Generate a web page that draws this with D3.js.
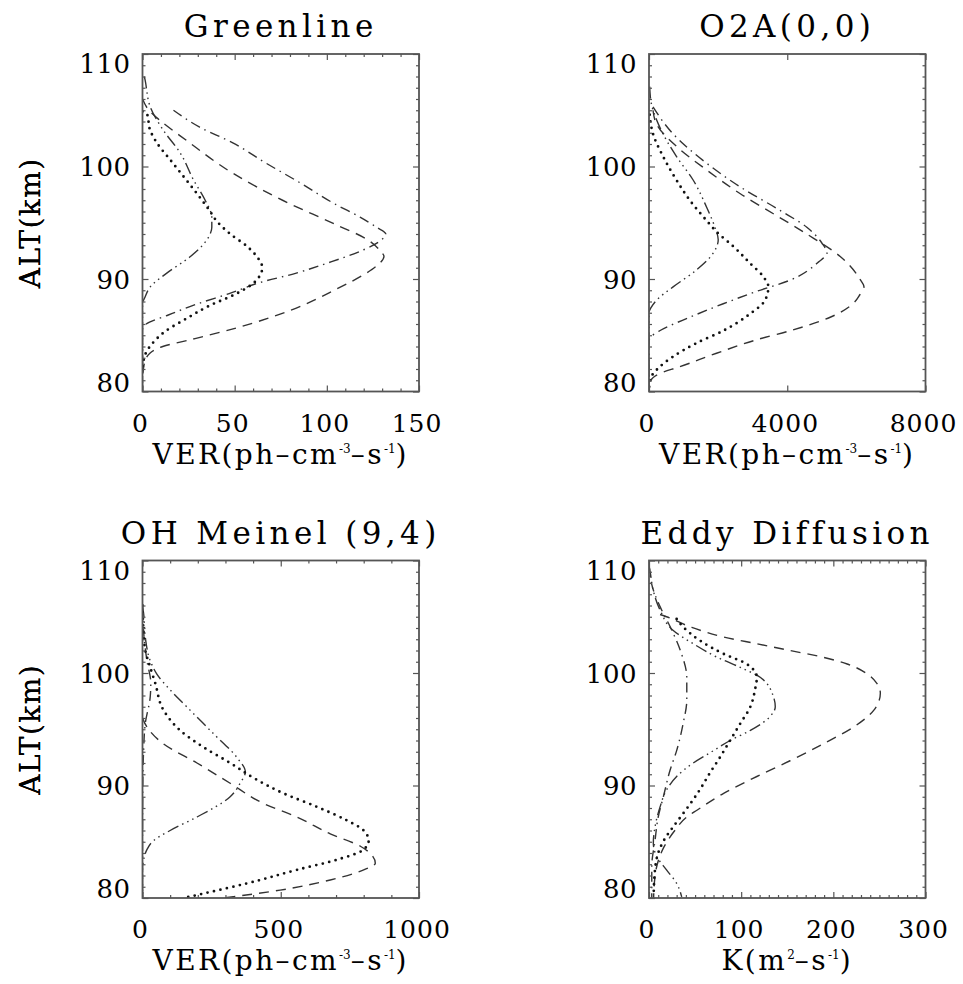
<!DOCTYPE html>
<html>
<head>
<meta charset="utf-8">
<script src="https://cdn.jsdelivr.net/npm/d3@7"></script>
<style>
  body { margin: 0; background: #fff; }
  svg { display: block; font-family: "DejaVu Serif", serif; }
</style>
</head>
<body>
<div id="chart"></div>
<script>
// ---- data: [altitude km, value] ----
const altDomain = [80, 110];
const altTicks = [80, 90, 100, 110];

// Greenline
const greenDotted = [[104.9,0],[104.7,2.4],[103.2,4.2],[102.1,7.8],[100.6,15],[99.1,22.3],[97.6,29.5],[96.0,36.7],[95.2,40],[94.0,47.6],[92.9,56.7],[92.0,62],[91.0,65],[90.4,64],[89.6,60],[88.7,51],[87.6,36],[86.5,24],[85.3,12],[84.2,5],[83.3,1.5],[82,0]];
const greenDashed = [[106,0],[104.9,4],[104.3,8],[102.3,24],[99.4,49],[97.0,76],[94.9,104],[93.5,122],[92.5,129],[92.0,131],[91.3,128],[90.8,124],[89.0,104],[87.2,80],[85.7,52],[84.6,26],[84.0,11],[83.4,4],[82.5,1],[81,0]];
const greenDashDot = [[105.0,16.8],[103.5,31],[102.1,49],[100.3,67],[98.5,86],[96.7,104],[95.5,118],[94.6,127],[94.0,132],[93.4,129],[92.6,120],[91.4,100],[90.5,83],[89.7,64],[88.7,47],[87.8,30],[86.8,14],[86.0,2],[85.5,0],[80,0]];
const greenDashDotDot = [[108,1],[107.7,1.4],[105.3,4.2],[103.2,11.4],[101.2,20.5],[98.8,27.7],[97.0,34],[95.5,37.6],[94.6,37.6],[93.5,35],[92.0,26],[90.5,13],[89.3,4.2],[88.4,1.4],[87.8,0],[80,0]];

// O2A(0,0)
const o2aDotted = [[104.6,19],[102.9,116],[100.9,406],[98.8,793],[97.0,1180],[95.2,1664],[94.2,1954],[92.9,2438],[91.4,2922],[90.2,3309],[89.3,3454],[88.1,3357],[86.9,2922],[85.4,2148],[84.3,1374],[83.1,697],[81.9,213],[81.0,19],[80,0]];
const o2aDashed = [[105,116],[103.8,213],[101.8,793],[99.7,1664],[97.6,2631],[95.8,3599],[94.0,4566],[92.0,5533],[90.0,6100],[89.3,6220],[88.6,6100],[87.8,5900],[86.6,5243],[85.4,4082],[84.6,3115],[83.4,1954],[82.2,890],[81.6,310],[81,60],[80,0]];
const o2aDashDot = [[105.3,116],[102.9,697],[100.3,1664],[98.2,2631],[96.1,3792],[94.6,4566],[93.2,5000],[92.3,5150],[91.5,4900],[89.9,4082],[88.9,3115],[87.8,2148],[86.6,1180],[85.4,310],[84.9,68],[84.5,0],[80,0]];
const o2aDashDotDot = [[107.1,19],[105.6,68],[103.5,310],[100.9,793],[98.8,1277],[96.4,1664],[94.6,1906],[93.5,2003],[92.3,1857],[90.8,1374],[89.3,697],[88.1,213],[87.5,68],[87,0],[80,0]];

// OH Meinel (9,4)
const ohDotted = [[106,0],[104.5,2],[103.5,4],[102.0,10],[100.5,28],[99.1,46],[96.7,76],[94.9,136],[93.4,221],[92.0,317],[90.5,414],[89.3,510],[88.1,631],[86.9,739],[86.0,800],[85.1,818],[84.3,800],[83.4,703],[82.5,558],[81.3,378],[80.4,221],[80,150]];
const ohDashed = [[96,0],[95.2,16],[93.7,76],[92.0,197],[90.2,317],[88.4,438],[87.2,558],[85.7,679],[84.6,788],[83.8,830],[83.1,842],[82.5,800],[81.6,679],[80.7,498],[80.0,293]];
const ohDashDot = [[106,0],[104,3],[101.1,16],[99.1,30],[97.9,28],[95.5,10],[93.1,4],[90,1],[85,0],[80,0]];
const ohDashDotDot = [[106,0],[105.3,4],[103.2,10],[101.1,28],[99.9,52],[98.5,100],[96.7,172],[94.6,257],[92.5,341],[91.2,372],[90.2,353],[89.0,317],[87.2,197],[86.0,100],[85.1,40],[84.3,16],[83.4,4],[82.5,0],[80,0]];

// Eddy Diffusion
const eddyDotted = [[104.8,30],[104.1,37],[102.9,55],[101.7,81],[100.8,106],[99.6,117],[98.5,115],[97.0,110],[95.5,99],[94.0,88],[92.5,77],[91.1,66],[89.6,55],[87.5,37],[86.3,26],[85.1,16],[84.0,10],[82.5,6.5],[80.1,5]];
const eddyDashed = [[105.2,12],[105.0,19],[104.1,45],[103.2,81],[102.6,117],[102.0,153],[101.4,189],[100.8,215],[99.9,237],[99.1,247],[98.2,251],[96.7,244],[95.2,222],[93.7,189],[92.2,153],[90.8,117],[89.3,81],[87.8,52],[87.2,41],[86,28],[84.5,16],[83,9],[81.5,6],[80,5]];
const eddyDashDot = [[110,0],[107.9,2.9],[105.9,12],[104.1,23],[102.0,34],[99.6,41],[97.6,41],[95.5,37],[93.1,30],[91.4,23],[89.0,15.6],[87.2,10],[85.1,6.5],[82.8,3],[80,3]];
const eddyDashDotDot = [[109.5,0],[109.1,1],[107.3,4.7],[105.6,12],[103.8,26],[102.6,48],[101.4,74],[100.5,99],[99.6,121],[97.9,135],[97.0,137],[96.1,131],[94.9,110],[94.0,88],[93.1,70],[92.0,48],[90.8,30],[89.6,19],[88.1,12],[86.3,6.5],[84.9,4.7],[83.7,8.3],[82.5,19],[81.3,30],[80.1,35.5]];

// ---- layout ----
const width = 963, height = 984;
const colX = [142.5, 649], rowY = [54, 560.5];
const pw = 276.5, ph = 337.5;

const lineStyles = {
    dot:        { w: 2.8, dash: "0 6.6", cap: "round", color: "#111" },
    dash:       { w: 1.4, dash: "10 7", cap: "butt", color: "#333" },
    dashdot:    { w: 1.4, dash: "10 5 1.5 5", cap: "butt", color: "#333" },
    dashdotdot: { w: 1.4, dash: "12 4 1.5 4 1.5 4 1.5 4", cap: "butt", color: "#333" }
};

const panels = [
    { title: "Greenline", col: 0, row: 0, xDomain: [0, 150], xMajor: [0, 50, 100, 150], xMinor: 10, xLabel: "ver",
      series: [[greenDashed, "dash"], [greenDashDot, "dashdot"], [greenDashDotDot, "dashdotdot"], [greenDotted, "dot"]] },
    { title: "O2A(0,0)", col: 1, row: 0, xDomain: [0, 8000], xMajor: [0, 4000, 8000], xMinor: null, xLabel: "ver",
      series: [[o2aDashed, "dash"], [o2aDashDot, "dashdot"], [o2aDashDotDot, "dashdotdot"], [o2aDotted, "dot"]] },
    { title: "OH Meinel (9,4)", col: 0, row: 1, xDomain: [0, 1000], xMajor: [0, 500, 1000], xMinor: 100, xLabel: "ver",
      series: [[ohDashed, "dash"], [ohDashDot, "dashdot"], [ohDashDotDot, "dashdotdot"], [ohDotted, "dot"]] },
    { title: "Eddy Diffusion", col: 1, row: 1, xDomain: [0, 300], xMajor: [0, 100, 200, 300], xMinor: 10, xLabel: "k",
      series: [[eddyDashed, "dash"], [eddyDashDot, "dashdot"], [eddyDashDotDot, "dashdotdot"], [eddyDotted, "dot"]] }
];

const svg = d3.select("#chart").append("svg").attr("width", width).attr("height", height);
const defs = svg.append("defs");

panels.forEach((p, idx) => {
    const x0 = colX[p.col], y0 = rowY[p.row];
    const g = svg.append("g").attr("transform", `translate(${x0},${y0})`);
    const x = d3.scaleLinear().domain(p.xDomain).range([0, pw]);
    const y = d3.scaleLinear().domain(altDomain).range([ph, 0]);

    defs.append("clipPath").attr("id", "clip" + idx)
        .append("rect").attr("width", pw).attr("height", ph);

    // curves
    const line = d3.line()
        .x(d => x(d[1]))
        .y(d => y(d[0]))
        .curve(d3.curveMonotoneY);
    const plot = g.append("g").attr("clip-path", `url(#clip${idx})`);
    p.series.forEach(([data, style]) => {
        const s = lineStyles[style];
        plot.append("path")
            .attr("d", line(data))
            .attr("fill", "none")
            .attr("stroke", s.color)
            .attr("stroke-width", s.w)
            .attr("stroke-dasharray", s.dash)
            .attr("stroke-linecap", s.cap);
    });

    // ticks (all inward, on all four sides)
    let minorX = [];
    if (p.xMinor) {
        minorX = d3.range(p.xDomain[0], p.xDomain[1] + 1e-9, p.xMinor).filter(v => !p.xMajor.includes(v));
    }
    const minorY = d3.range(80, 111, 1).filter(v => !altTicks.includes(v));
    const tickColor = "#555";
    const addAxis = (axis, tr) => {
        const a = g.append("g").attr("transform", tr).style("color", tickColor).call(axis);
        a.select(".domain").remove();
        a.selectAll("text").remove();
        a.selectAll("line").attr("stroke-width", 1.2);
    };
    addAxis(d3.axisBottom(x).tickValues(p.xMajor).tickSize(-6), `translate(0,${ph})`);
    addAxis(d3.axisTop(x).tickValues(p.xMajor).tickSize(-6), "translate(0,0)");
    if (minorX.length) {
        addAxis(d3.axisBottom(x).tickValues(minorX).tickSize(-3), `translate(0,${ph})`);
        addAxis(d3.axisTop(x).tickValues(minorX).tickSize(-3), "translate(0,0)");
    }
    addAxis(d3.axisLeft(y).tickValues(altTicks).tickSize(-6), "translate(0,0)");
    addAxis(d3.axisRight(y).tickValues(altTicks).tickSize(-6), `translate(${pw},0)`);
    addAxis(d3.axisLeft(y).tickValues(minorY).tickSize(-3), "translate(0,0)");
    addAxis(d3.axisRight(y).tickValues(minorY).tickSize(-3), `translate(${pw},0)`);

    // frame
    g.append("rect").attr("width", pw).attr("height", ph)
        .attr("fill", "none").attr("stroke", "#555").attr("stroke-width", 1.8);

    // tick labels
    g.selectAll(".xl").data(p.xMajor).join("text")
        .attr("x", d => x(d) - 2)
        .attr("y", ph + 40)
        .attr("text-anchor", "middle")
        .attr("font-size", 25)
        .attr("letter-spacing", 1)
        .text(d => d);
    g.selectAll(".yl").data(altTicks).join("text")
        .attr("x", -12)
        .attr("y", d => d === 110 ? y(d) + 19 : d === 80 ? y(d) : y(d) + 9.5)
        .attr("text-anchor", "end")
        .attr("font-size", 26)
        .attr("letter-spacing", 0.5)
        .text(d => d);

    // title
    g.append("text")
        .attr("x", pw / 2).attr("y", -17)
        .attr("text-anchor", "middle")
        .attr("font-size", 31)
        .attr("letter-spacing", 4.4)
        .text(p.title);

    // y label
    g.append("text")
        .attr("transform", `translate(${40 - x0},${ph / 2}) rotate(-90)`)
        .attr("text-anchor", "middle")
        .attr("font-size", 28)
        .attr("letter-spacing", 1.5)
        .text("ALT(km)");

    // x label with superscripts
    const xl = g.append("text")
        .attr("x", pw / 2).attr("y", ph + 72)
        .attr("text-anchor", "middle")
        .attr("font-size", 28)
        .attr("letter-spacing", 2.4);
    const sup = (t) => xl.append("tspan").attr("font-size", 12).attr("letter-spacing", 0).attr("dy", -11).text(t);
    const back = (t) => xl.append("tspan").attr("dy", 11).text(t);
    if (p.xLabel === "ver") {
        xl.append("tspan").text("VER(ph–cm");
        sup("-3");
        back("–s");
        sup("-1");
        back(")");
    } else {
        xl.append("tspan").text("K(m");
        sup("2");
        back("–s");
        sup("-1");
        back(")");
    }
});
</script>
</body>
</html>
